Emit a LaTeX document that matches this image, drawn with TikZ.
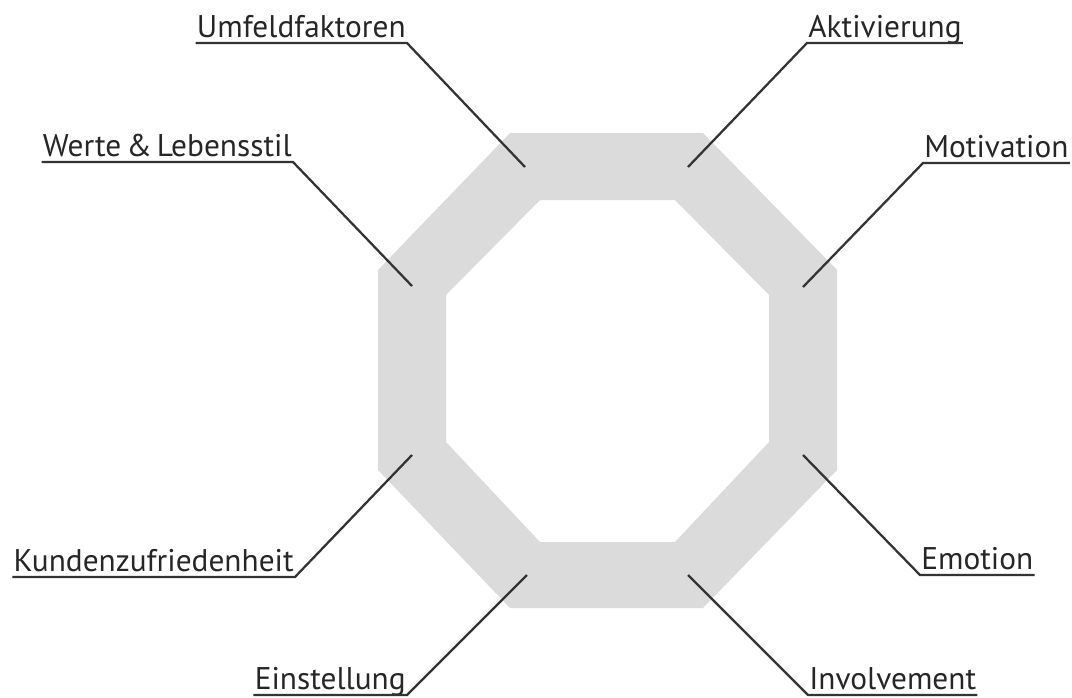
\documentclass[tikz,border=0pt]{standalone}
\usepackage{fontspec}
\setmainfont[WordSpace=0.6]{PT Sans}
\begin{document}
\begin{tikzpicture}[x=0.75pt,y=-0.75pt,
  lbl/.style={inner xsep=1pt,inner ysep=4.5pt,outer sep=0pt,text depth=0pt,
    font=\fontsize{23.5pt}{26pt}\selectfont,text=black!85},
  leader/.style={draw=black!80,line width=1.7pt,line join=miter}]
\useasboundingbox (0,0) rectangle (1072,697);
% octagon ring
\fill[black!14,even odd rule]
  (510,133) -- (703,133) -- (837,270) -- (837,470) -- (703,608) -- (510,608) -- (378,470) -- (378,270) -- cycle
  (540,200) -- (675,200) -- (769,295) -- (769,442) -- (675,542) -- (540,542) -- (446,442) -- (446,295) -- cycle;
% attachment points
\coordinate (pUmf) at (525,167);
\coordinate (pAkt) at (688,167);
\coordinate (pWer) at (412,286);
\coordinate (pMot) at (803,287);
\coordinate (pKun) at (412,455);
\coordinate (pEmo) at (803,455);
\coordinate (pEin) at (527,575);
\coordinate (pInv) at (688,575);
% labels
\node[lbl,anchor=south east] (umf) at (407,43) {Umfeldfaktoren};
\node[lbl,anchor=south west] (akt) at (807,43) {Aktivierung};
\node[lbl,anchor=south east] (wer) at (293,162) {Werte \& Lebensstil};
\node[lbl,anchor=south west] (mot) at (923,163) {Motivation};
\node[lbl,anchor=south east] (kun) at (295,577) {Kundenzufriedenheit};
\node[lbl,anchor=south west] (emo) at (920,575) {Emotion};
\node[lbl,anchor=south east] (ein) at (407,695) {Einstellung};
\node[lbl,anchor=south west] (inv) at (808,695) {Involvement};
% leaders
\draw[leader] (umf.south west) -- (umf.south east) -- (pUmf);
\draw[leader] (akt.south east) -- (akt.south west) -- (pAkt);
\draw[leader] (wer.south west) -- (wer.south east) -- (pWer);
\draw[leader] (mot.south east) -- (mot.south west) -- (pMot);
\draw[leader] (kun.south west) -- (kun.south east) -- (pKun);
\draw[leader] (emo.south east) -- (emo.south west) -- (pEmo);
\draw[leader] (ein.south west) -- (ein.south east) -- (pEin);
\draw[leader] (inv.south east) -- (inv.south west) -- (pInv);
\end{tikzpicture}
\end{document}
